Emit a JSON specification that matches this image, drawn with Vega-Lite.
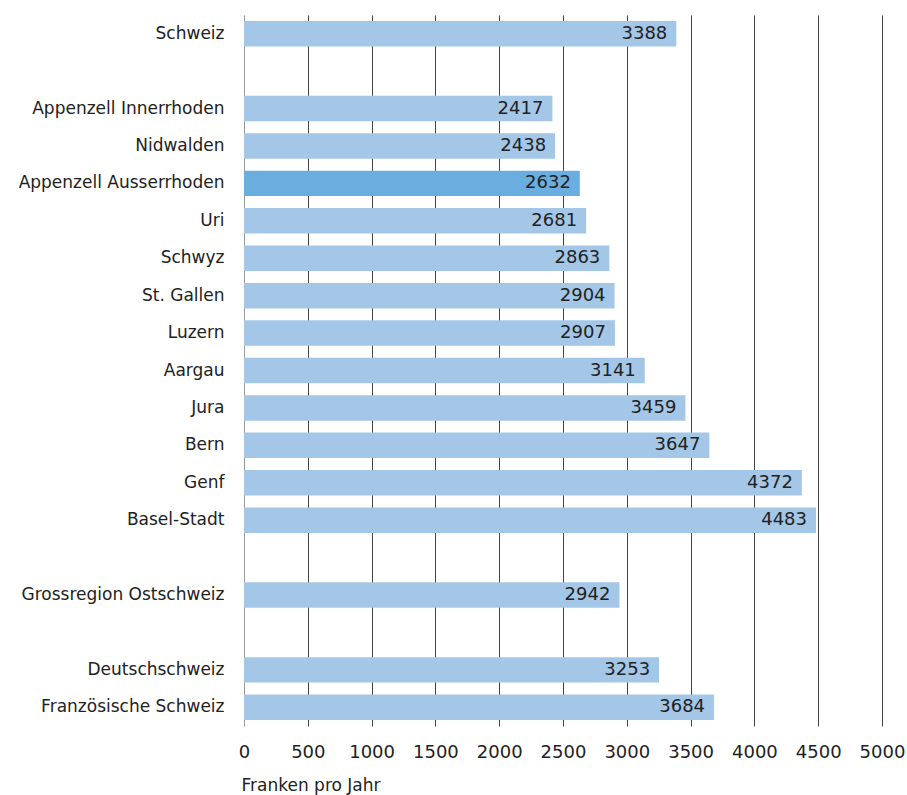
{
  "$schema": "https://vega.github.io/schema/vega-lite/v6.json",
  "autosize": {"type": "none"},
  "padding": {"left": 244, "top": 15, "right": 25, "bottom": 69},
  "width": 638,
  "height": 711,
  "background": "white",
  "config": {
    "view": {"stroke": null},
    "font": "DejaVu Sans"
  },
  "data": {
    "values": [
      {"name": "Schweiz", "value": 3388, "hl": "no"},
      {"name": "Appenzell Innerrhoden", "value": 2417, "hl": "no"},
      {"name": "Nidwalden", "value": 2438, "hl": "no"},
      {"name": "Appenzell Ausserrhoden", "value": 2632, "hl": "yes"},
      {"name": "Uri", "value": 2681, "hl": "no"},
      {"name": "Schwyz", "value": 2863, "hl": "no"},
      {"name": "St. Gallen", "value": 2904, "hl": "no"},
      {"name": "Luzern", "value": 2907, "hl": "no"},
      {"name": "Aargau", "value": 3141, "hl": "no"},
      {"name": "Jura", "value": 3459, "hl": "no"},
      {"name": "Bern", "value": 3647, "hl": "no"},
      {"name": "Genf", "value": 4372, "hl": "no"},
      {"name": "Basel-Stadt", "value": 4483, "hl": "no"},
      {"name": "Grossregion Ostschweiz", "value": 2942, "hl": "no"},
      {"name": "Deutschschweiz", "value": 3253, "hl": "no"},
      {"name": "Französische Schweiz", "value": 3684, "hl": "no"}
    ]
  },
  "encoding": {
    "y": {
      "field": "name",
      "type": "nominal",
      "scale": {
        "domain": ["Schweiz", " ", "Appenzell Innerrhoden", "Nidwalden", "Appenzell Ausserrhoden", "Uri", "Schwyz", "St. Gallen", "Luzern", "Aargau", "Jura", "Bern", "Genf", "Basel-Stadt", "  ", "Grossregion Ostschweiz", "   ", "Deutschschweiz", "Französische Schweiz"],
        "paddingInner": 0.32,
        "paddingOuter": 0.16
      },
      "axis": {
        "title": null,
        "ticks": false,
        "domain": false,
        "labelPadding": 20,
        "labelFontSize": 17,
        "labelLimit": 400,
        "labelColor": "#222222",
        "labelFont": "DejaVu Sans"
      }
    },
    "x": {
      "field": "value",
      "type": "quantitative",
      "scale": {"domain": [0, 5000], "nice": false},
      "axis": {
        "values": [0, 500, 1000, 1500, 2000, 2500, 3000, 3500, 4000, 4500, 5000],
        "format": "d",
        "labelOverlap": false,
        "labelFlush": false,
        "grid": true,
        "gridColor": {"condition": {"test": "datum.value === 0", "value": "#999999"}, "value": "#444444"},
        "gridWidth": 1,
        "ticks": false,
        "domain": false,
        "labelPadding": 17,
        "labelFontSize": 18,
        "labelColor": "#222222",
        "labelFont": "DejaVu Sans",
        "title": "Franken pro Jahr",
        "titleFont": "DejaVu Sans",
        "titleFontSize": 17,
        "titleFontWeight": "normal",
        "titleColor": "#222222",
        "titleAnchor": "start",
        "titleAlign": "left",
        "titlePadding": 16,
        "titleX": -3
      }
    }
  },
  "layer": [
    {
      "mark": {"type": "bar"},
      "encoding": {
        "color": {
          "field": "hl",
          "type": "nominal",
          "scale": {"domain": ["no", "yes"], "range": ["#a4c7e8", "#6aaee0"]},
          "legend": null
        }
      }
    },
    {
      "mark": {"type": "text", "align": "right", "baseline": "middle", "dx": -9, "fontSize": 18, "color": "#222222", "font": "DejaVu Sans"},
      "encoding": {
        "text": {"field": "value", "type": "quantitative", "format": "d"}
      }
    }
  ]
}
